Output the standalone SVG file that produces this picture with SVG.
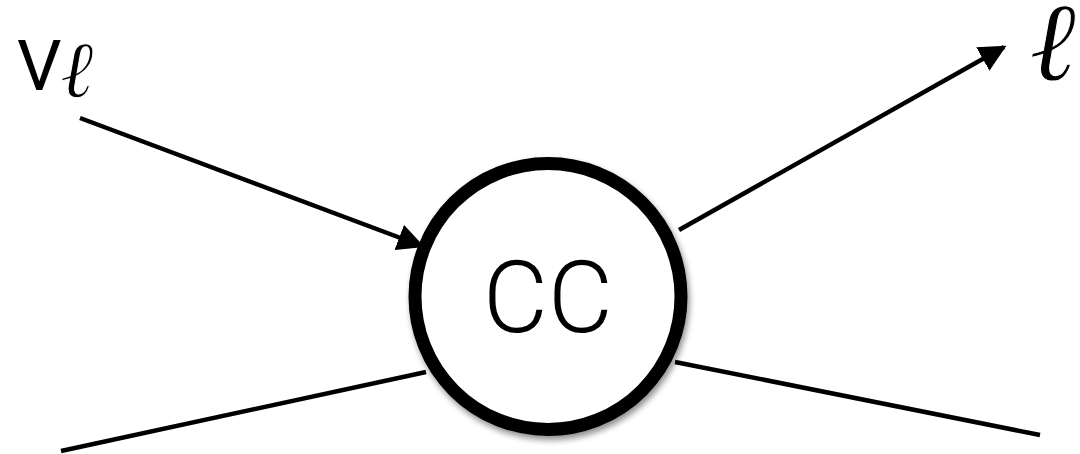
<svg xmlns="http://www.w3.org/2000/svg" width="1080" height="454" viewBox="0 0 1080 454">
<style>
.ln{stroke:#000;stroke-width:4.5;fill:none}
.lbl{font-family:Roboto,"Liberation Sans",sans-serif;fill:#000}
.ell{font-family:"DejaVu Serif",serif;font-style:italic;fill:#000;stroke:#fff;stroke-width:1}
</style>
<defs>
<marker id="ah" viewBox="0 0 10 10" refX="9" refY="5" markerWidth="6" markerHeight="6" markerUnits="strokeWidth" orient="auto">
<path d="M0,0 L10,5 L0,10 z" fill="#000"/>
</marker>
<filter id="sh" x="-20%" y="-20%" width="140%" height="140%">
<feGaussianBlur in="SourceAlpha" stdDeviation="3"/>
<feOffset dx="2" dy="4" result="b"/>
<feComponentTransfer><feFuncA type="linear" slope="0.45"/></feComponentTransfer>
<feMerge><feMergeNode/><feMergeNode in="SourceGraphic"/></feMerge>
</filter>
</defs>
<rect width="1080" height="454" fill="#fff"/>
<g id="connectors">
<line class="ln" x1="80" y1="118" x2="422" y2="246" marker-end="url(#ah)"/>
<line class="ln" x1="679" y1="230" x2="1004" y2="47" marker-end="url(#ah)"/>
<line class="ln" x1="61" y1="451" x2="426" y2="372"/>
<line class="ln" x1="675" y1="362" x2="1040" y2="435"/>
</g>
<g id="node-cc">
<circle cx="548" cy="296.5" r="133" fill="#fff" stroke="#000" stroke-width="13" filter="url(#sh)"/>
<text class="lbl" x="548" y="332" font-size="100" font-weight="300" text-anchor="middle">CC</text>
</g>
<g id="label-nu">
<text class="lbl" x="17" y="90" font-size="70" font-weight="400">V</text>
<text class="ell" x="60" y="97" font-size="80">ℓ</text>
</g>
<g id="label-l">
<text class="ell" x="1076" y="80" font-size="112" text-anchor="end">ℓ</text>
</g>
</svg>
